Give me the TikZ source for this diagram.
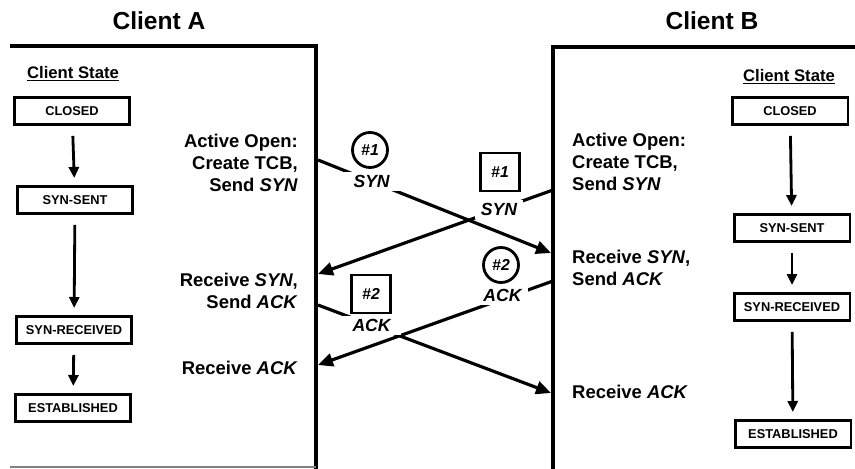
\documentclass[tikz,border=0pt]{standalone}
\usepackage{fontspec}
\setmainfont{Liberation Sans}
\usetikzlibrary{arrows.meta}
\begin{document}
\begin{tikzpicture}[x=0.02cm,y=-0.02cm,
  frame/.style={line width=2pt},
  statebox/.style={draw, line width=1.7pt, minimum width=2.32cm, minimum height=0.54cm, inner sep=0pt, font=\bfseries\fontsize{7.3}{8}\selectfont},
  stateflow/.style={line width=1.6pt, -{Triangle[length=0.22cm,width=0.2cm]}, shorten <=0.2cm, shorten >=0.14cm},
  msg/.style={line width=1.8pt, -{Triangle[length=0.3cm,width=0.26cm]}},
  msglabel/.style={fill=white, inner xsep=0.2cm, inner ysep=2pt, font=\bfseries\itshape\fontsize{10}{11}\selectfont},
  seqcircle/.style={draw, circle, line width=1.6pt, minimum size=0.7cm, inner sep=0pt, font=\bfseries\itshape\fontsize{9}{10}\selectfont},
  seqsquare/.style={draw, line width=1.6pt, minimum width=0.78cm, minimum height=0.76cm, inner sep=0pt, font=\bfseries\itshape\fontsize{9}{10}\selectfont},
  title/.style={font=\bfseries\fontsize{14}{16}\selectfont},
  statehead/.style={font=\bfseries\fontsize{9.5}{10}\selectfont},
  event/.style={font=\bfseries\fontsize{10.5}{12.5}\selectfont}
]
\useasboundingbox (0,0) rectangle (855,469);

% titles
\node[title] (tA) at (159,21) {Client A};
\node[title] (tB) at (712,21) {Client B};

% frames
\draw[frame] (10,46) -- (316,46) -- (316,469);
\draw[gray, line width=0.6pt] (10,467) -- (316,467);
\draw[frame] (553,469) -- (553,47) -- (855,47);

% client A states
\node[statehead] (hA) at (73,74) {\underline{Client State}};
\node[statebox] (a1) at (72,111) {CLOSED};
\node[statebox] (a2) at (75,200) {SYN-SENT};
\node[statebox] (a3) at (74,330) {SYN-RECEIVED};
\node[statebox] (a4) at (73,408) {ESTABLISHED};
\draw[stateflow] (a1) -- (a2);
\draw[stateflow] (a2) -- (a3);
\draw[stateflow] (a3) -- (a4);

% client B states
\node[statehead] (hB) at (789,77) {\underline{Client State}};
\node[statebox] (b1) at (790,111) {CLOSED};
\node[statebox] (b2) at (792,228) {SYN-SENT};
\node[statebox] (b3) at (792,307) {SYN-RECEIVED};
\node[statebox] (b4) at (793,434) {ESTABLISHED};
\draw[stateflow] (b1) -- (b2);
\draw[stateflow] (b2) -- (b3);
\draw[stateflow] (b3) -- (b4);

% event texts A
\node[event, align=right, anchor=east] (eA1) at (304,163) {Active Open:\\Create TCB,\\Send \textit{SYN}};
\node[event, align=right, anchor=east] (eA2) at (304,291) {Receive \textit{SYN},\\Send \textit{ACK}};
\node[event, align=right, anchor=east] (eA3) at (304,368) {Receive \textit{ACK}};

% event texts B
\node[event, align=left, anchor=west] (eB1) at (566,162) {Active Open:\\Create TCB,\\Send \textit{SYN}};
\node[event, align=left, anchor=west] (eB2) at (566,268) {Receive \textit{SYN},\\Send \textit{ACK}};
\node[event, align=left, anchor=west] (eB3) at (566,392) {Receive \textit{ACK}};

% message endpoints
\coordinate (sA1) at (318,160);
\coordinate (eB1end) at (551,253);
\coordinate (sB1) at (553,190);
\coordinate (eA1end) at (318,274);
\coordinate (sB2) at (553,281);
\coordinate (eA2end) at (318,365);
\coordinate (sA2) at (318,305);
\coordinate (eB2end) at (551,393);

% messages
\draw[msg] (sA1) -- (eB1end) node[msglabel, pos=0.23] (synA) {SYN};
\draw[msg] (sB1) -- (eA1end) node[msglabel, pos=0.23, inner xsep=0.12cm] (synB) {SYN};
\draw[msg] (sB2) -- (eA2end) node[msglabel, pos=0.215, yshift=0.08cm, inner xsep=0.12cm] (ackB) {ACK};
\draw[msg] (sA2) -- (eB2end) node[msglabel, pos=0.23] (ackA) {ACK};

% sequence markers
\node[seqcircle] (cA1) at (370,150) {\#1};
\node[seqsquare] (qB1) at (500,172) {\#1};
\node[seqcircle] (cB2) at (501,265) {\#2};
\node[seqsquare] (qA2) at (371,294) {\#2};
\end{tikzpicture}
\end{document}
